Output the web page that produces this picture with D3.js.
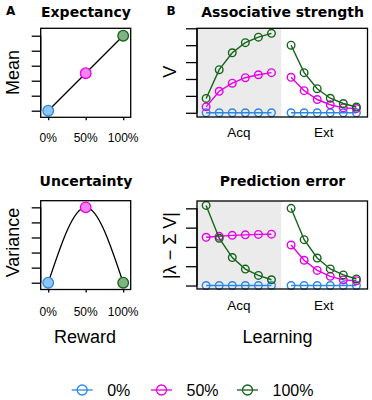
<!DOCTYPE html>
<html><head><meta charset="utf-8">
<script src="https://cdn.jsdelivr.net/npm/d3@7"></script>
<style>
html,body{margin:0;padding:0;background:#fff;}
svg{display:block;}
.sans{font-family:"Liberation Sans",Arial,sans-serif;}
.bold{font-family:"DejaVu Sans",sans-serif;font-weight:bold;}
</style></head>
<body><svg id="c" width="372" height="400"></svg>
<script>
// ---------- data ----------
const rewardLabels = ["0%", "50%", "100%"];
const rewardProb = [0, 0.5, 1];
const meanValues = [0, 0.5, 1];
const varianceValues = [0, 0.25, 0];
const meanTicks = [0, 0.2, 0.4, 0.6, 0.8, 1];
const varianceTicks = [0, 0.05, 0.1, 0.15, 0.2, 0.25];
const strengthTicks = [0, 0.2, 0.4, 0.6, 0.8, 1];
const errorTicks = [0, 0.2, 0.4, 0.6, 0.8];
const phaseLabels = ["Acq", "Ext"];
const acqTrials = [1, 2, 3, 4, 5, 6];
const extTrials = [7.5, 8.5, 9.5, 10.5, 11.5, 12.5];
// associative strength V
const vAcq0 = [0, 0, 0, 0, 0, 0];
const vAcq50 = [0.07, 0.255, 0.35, 0.415, 0.45, 0.475];
const vAcq100 = [0.17, 0.51, 0.71, 0.83, 0.895, 0.94];
const vExt0 = [0, 0, 0, 0, 0, 0];
const vExt50 = [0.42, 0.262, 0.157, 0.095, 0.058, 0.05];
const vExt100 = [0.80, 0.475, 0.285, 0.172, 0.11, 0.068];
// prediction error |lambda - sum V|
const peAcq0 = [0, 0, 0, 0, 0, 0];
const peAcq50 = [0.50, 0.51, 0.52, 0.525, 0.53, 0.532];
const peAcq100 = [0.83, 0.49, 0.29, 0.17, 0.105, 0.06];
const peExt0 = [0, 0, 0, 0, 0, 0];
const peExt50 = [0.42, 0.262, 0.157, 0.095, 0.058, 0.05];
const peExt100 = [0.80, 0.475, 0.285, 0.172, 0.11, 0.068];
const seriesColors = ["#2a87e6", "#e800e8", "#14641a"];
const seriesFills = ["#8fc6fa", "#f584f5", "#80b283"];

// ---------- drawing ----------
const svg = d3.select("#c");
svg.append("rect").attr("width", 372).attr("height", 400).attr("fill", "#fff");

function frame(x0, x1, y0, y1) {
  svg.append("rect").attr("x", x0).attr("y", y0).attr("width", x1 - x0).attr("height", y1 - y0)
    .attr("fill", "none").attr("stroke", "#000").attr("stroke-width", 1.3);
}
function yTicks(scale, ticks, x0, len) {
  const g = svg.append("g").attr("transform", `translate(${x0},0)`);
  g.call(d3.axisLeft(scale).tickValues(ticks).tickFormat("").tickSize(len).tickSizeOuter(0));
  g.select(".domain").attr("d", `M0,${scale(ticks[0])}V${scale(ticks[ticks.length - 1])}`)
    .attr("stroke-width", 1.3);
  g.selectAll(".tick line").attr("stroke-width", 1.3);
}

// ----- Panel A & C -----
const xR = d3.scaleLinear().domain([-0.1, 1.1]).range([40.7, 130.7]);
function rewardPanel(yTop, yBot, yDomain, values, ticks, curve, title, titleY, ylab, ylabY, labY) {
  const y = d3.scaleLinear().domain(yDomain).range([yBot, yTop]);
  const pts = rewardProb.map((p, i) => [p, values[i]]);
  svg.append("path").datum(pts)
    .attr("d", d3.line().x(d => xR(d[0])).y(d => y(d[1])).curve(curve))
    .attr("fill", "none").attr("stroke", "#000").attr("stroke-width", 1.3);
  svg.selectAll(null).data(pts).enter().append("circle")
    .attr("cx", d => xR(d[0])).attr("cy", d => y(d[1])).attr("r", 5.3)
    .attr("fill", (d, i) => seriesFills[i]).attr("stroke", (d, i) => seriesColors[i]).attr("stroke-width", 1.3);
  frame(40.7, 130.7, yTop, yBot);
  yTicks(y, ticks, 40.7, 9);
  const gx = svg.append("g").attr("transform", `translate(0,${yBot})`);
  gx.call(d3.axisBottom(xR).tickValues(rewardProb).tickFormat("").tickSize(3).tickSizeOuter(0));
  gx.select(".domain").remove();
  gx.selectAll(".tick line").attr("stroke-width", 1.3);
  svg.selectAll(null).data(rewardLabels).enter().append("text").attr("class", "sans")
    .attr("x", (d, i) => xR(rewardProb[i])).attr("y", labY).attr("text-anchor", "middle")
    .attr("font-size", 12).text(d => d);
  svg.append("text").attr("class", "bold").attr("x", 86).attr("y", titleY)
    .attr("text-anchor", "middle").attr("font-size", 14).text(title);
  svg.append("text").attr("class", "sans").attr("transform", `translate(18.5,${ylabY}) rotate(-90)`)
    .attr("text-anchor", "middle").attr("font-size", 18).text(ylab);
}
rewardPanel(28.3, 117.3, [-0.088, 1.099], meanValues, meanTicks, d3.curveLinear, "Expectancy", 16.8, "Mean", 72.5, 141.5);
rewardPanel(200.7, 289.5, [-0.0225, 0.272], varianceValues, varianceTicks, d3.curveNatural, "Uncertainty", 185.5, "Variance", 242.5, 316);

// ----- Panel B & D -----
const xL = d3.scaleLinear().domain([0.3, 13.35]).range([197, 367.5]);
function learnPanel(yTop, yBot, yDomain, acqSeries, extSeries, ticks, title, titleY, ylab, ylabY, labY) {
  const y = d3.scaleLinear().domain(yDomain).range([yBot, yTop]);
  svg.append("rect").attr("x", xL(0.3)).attr("y", yTop)
    .attr("width", xL(6.75) - xL(0.3)).attr("height", yBot - yTop).attr("fill", "#ebebeb");
  const line = d3.line().x(d => xL(d[0])).y(d => y(d[1]));
  [[acqTrials, acqSeries], [extTrials, extSeries]].forEach(([tr, ser]) => {
    ser.forEach((vals, si) => {
      const pts = tr.map((t, i) => [t, vals[i]]);
      svg.append("path").datum(pts).attr("d", line).attr("fill", "none")
        .attr("stroke", seriesColors[si]).attr("stroke-width", 1.4);
      svg.selectAll(null).data(pts).enter().append("circle")
        .attr("cx", d => xL(d[0])).attr("cy", d => y(d[1])).attr("r", 3.8)
        .attr("fill", "none").attr("stroke", seriesColors[si]).attr("stroke-width", 1.4);
    });
  });
  frame(197, 367.5, yTop, yBot);
  yTicks(y, ticks, 197, 11);
  svg.selectAll(null).data(phaseLabels).enter().append("text").attr("class", "sans")
    .attr("x", (d, i) => xL(i === 0 ? d3.mean(acqTrials) : d3.mean(extTrials)) - (i === 0 ? 0 : 0))
    .attr("y", labY).attr("text-anchor", "middle").attr("font-size", 13.5).text(d => d);
  svg.append("text").attr("class", "bold").attr("x", 282.5).attr("y", titleY)
    .attr("text-anchor", "middle").attr("font-size", 14).text(title);
  svg.append("text").attr("class", "sans").attr("transform", `translate(175.5,${ylabY}) rotate(-90)`)
    .attr("text-anchor", "middle").attr("font-size", 18).text(ylab);
}
learnPanel(28.3, 117, [-0.05, 1.0], [vAcq0, vAcq50, vAcq100], [vExt0, vExt50, vExt100],
  strengthTicks, "Associative strength", 16.8, "V", 71.7, 137);
learnPanel(201, 289, [-0.036, 0.876], [peAcq0, peAcq50, peAcq100], [peExt0, peExt50, peExt100],
  errorTicks, "Prediction error", 185.5, "|λ − Σ V|", 245.5, 310);

// panel letters
svg.append("text").attr("class", "bold").attr("x", 6).attr("y", 15).attr("font-size", 12).text("A");
svg.append("text").attr("class", "bold").attr("x", 166.5).attr("y", 15).attr("font-size", 12).text("B");

// bottom labels
svg.append("text").attr("class", "sans").attr("x", 85).attr("y", 342.5).attr("text-anchor", "middle")
  .attr("font-size", 18).text("Reward");
svg.append("text").attr("class", "sans").attr("x", 277.5).attr("y", 342.5).attr("text-anchor", "middle")
  .attr("font-size", 18).text("Learning");

// legend
const legX = [71.7, 151, 237];
const legG = svg.selectAll(null).data(rewardLabels).enter().append("g")
  .attr("transform", (d, i) => `translate(${legX[i]},390)`);
legG.append("line").attr("x1", 0).attr("x2", 21).attr("stroke", (d, i) => seriesColors[i]).attr("stroke-width", 1.3);
legG.append("circle").attr("cx", 10.5).attr("r", 5).attr("fill", "none")
  .attr("stroke", (d, i) => seriesColors[i]).attr("stroke-width", 1.3);
legG.append("text").attr("class", "sans").attr("x", 35.5).attr("y", 5.7).attr("font-size", 16).text(d => d);
</script></body></html>
